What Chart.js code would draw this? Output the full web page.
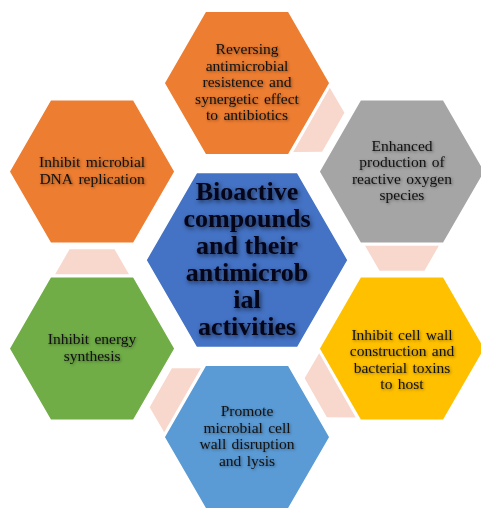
<!DOCTYPE html>
<html>
<head>
<meta charset="utf-8">
<script src="https://cdn.jsdelivr.net/npm/chart.js@4.4.1/dist/chart.umd.min.js"></script>
<style>
  html, body { margin: 0; padding: 0; background: #ffffff; }
  #wrap { width: 481px; height: 508px; }
</style>
</head>
<body>
<div id="wrap"><canvas id="c" width="481" height="508"></canvas></div>
<script>
// ---------- data ----------
const centerLabel = ["Bioactive", "compounds", "and their", "antimicrob", "ial", "activities"];
const centerX = [0];
const centerY = [0];

const activityLabels = [
  ["Reversing", "antimicrobial", "resistence and", "synergetic effect", "to antibiotics"],
  ["Enhanced", "production of", "reactive oxygen", "species"],
  ["Inhibit cell wall", "construction and", "bacterial toxins", "to host"],
  ["Promote", "microbial cell", "wall disruption", "and lysis"],
  ["Inhibit energy", "synthesis"],
  ["Inhibit microbial", "DNA replication"]
];
// positions of the surrounding hexagons on the honeycomb grid (units of ring spacing)
const activityX = [0, 1, 1, 0, -1, -1];
const activityY = [1, 0.5, -0.5, -1, -0.5, 0.5];
// decorative links: from activity i to activity i+1
const linkFrom = [0, 1, 2, 3, 4];

// ---------- styles ----------
const activityColors = ['#ED7D31', '#A5A5A5', '#FFC000', '#5B9BD5', '#70AD47', '#ED7D31'];
const centerColor = '#4472C4';
const linkColor = '#F8D7CD';
const OUTER_R = 0.535;   // hexagon radius in x-axis units
const CENTER_R = 0.652;
const labelShiftPx = [0, 0, 12, 0, 0, 0];

const hexPlugin = {
  id: 'hexPlugin',
  afterDatasetsDraw(chart) {
    const ctx = chart.ctx;
    const xs = chart.scales.x;
    const unit = xs.getPixelForValue(1) - xs.getPixelForValue(0);
    const rOut = OUTER_R * unit;
    const rCen = CENTER_R * unit;
    const cMeta = chart.getDatasetMeta(0).data;
    const aMeta = chart.getDatasetMeta(1).data;

    function hexPath(cx, cy, r) {
      ctx.beginPath();
      for (let k = 0; k < 6; k++) {
        const a = Math.PI / 3 * k;
        const px = cx + r * Math.cos(a), py = cy + r * Math.sin(a);
        if (k === 0) ctx.moveTo(px, py); else ctx.lineTo(px, py);
      }
      ctx.closePath();
    }

    ctx.save();
    // links
    const apo = rOut * Math.cos(Math.PI / 6);
    const L = rOut * 0.89, g = 2.5, h = 25;
    linkFrom.forEach(i => {
      const p = aMeta[i], q = aMeta[(i + 1) % aMeta.length];
      let nx = q.x - p.x, ny = q.y - p.y;
      const len = Math.hypot(nx, ny); nx /= len; ny /= len;
      const tx = -ny, ty = nx;
      const mx = p.x + apo * nx, my = p.y + apo * ny;
      const half1 = L / 2, half2 = L / 2 - h / Math.sqrt(3);
      const b1x = mx + g * nx, b1y = my + g * ny;
      const b2x = mx + (g + h) * nx, b2y = my + (g + h) * ny;
      ctx.beginPath();
      ctx.moveTo(b1x + half1 * tx, b1y + half1 * ty);
      ctx.lineTo(b2x + half2 * tx, b2y + half2 * ty);
      ctx.lineTo(b2x - half2 * tx, b2y - half2 * ty);
      ctx.lineTo(b1x - half1 * tx, b1y - half1 * ty);
      ctx.closePath();
      ctx.fillStyle = linkColor;
      ctx.fill();
    });

    // hexagons
    ctx.lineWidth = 1.5;
    ctx.strokeStyle = '#ffffff';
    aMeta.forEach((el, i) => {
      hexPath(el.x, el.y, rOut);
      ctx.fillStyle = activityColors[i];
      ctx.fill();
      ctx.stroke();
    });
    cMeta.forEach(el => {
      hexPath(el.x, el.y, rCen);
      ctx.fillStyle = centerColor;
      ctx.fill();
      ctx.stroke();
    });

    // labels
    ctx.textAlign = 'center';
    ctx.textBaseline = 'middle';
    ctx.fillStyle = '#111111';
    ctx.shadowColor = 'rgba(0,0,0,0.45)';
    ctx.shadowBlur = 3;
    ctx.shadowOffsetX = 1;
    ctx.shadowOffsetY = 1;
    ctx.font = '15.5px "Liberation Serif", "Times New Roman", serif';
    if ('wordSpacing' in ctx) ctx.wordSpacing = '1.5px';
    const lh = 16.5;
    aMeta.forEach((el, i) => {
      const lines = activityLabels[i];
      lines.forEach((t, j) => {
        const y = el.y + (j - (lines.length - 1) / 2) * lh + labelShiftPx[i];
        ctx.fillText(t, el.x, y);
      });
    });
    if ('wordSpacing' in ctx) ctx.wordSpacing = '0px';
    ctx.font = 'bold 26px "Liberation Serif", "Times New Roman", serif';
    ctx.fillStyle = '#05051a';
    ctx.shadowColor = 'rgba(0,0,0,0.6)';
    ctx.shadowBlur = 4;
    ctx.shadowOffsetX = 1.5;
    ctx.shadowOffsetY = 1.5;
    const lh2 = 27;
    cMeta.forEach(el => {
      centerLabel.forEach((t, j) => {
        const y = el.y + (j - (centerLabel.length - 1) / 2) * lh2 + 1;
        ctx.fillText(t, el.x, y);
      });
    });
    ctx.restore();
  }
};

new Chart(document.getElementById('c'), {
  type: 'scatter',
  data: {
    datasets: [
      { label: 'Bioactive compounds', data: centerX.map((x, i) => ({ x, y: centerY[i] })), pointRadius: 0 },
      { label: 'Antimicrobial activities', data: activityX.map((x, i) => ({ x, y: activityY[i] })), pointRadius: 0 }
    ]
  },
  options: {
    responsive: false,
    animation: false,
    events: [],
    layout: { padding: 0 },
    plugins: { legend: { display: false }, tooltip: { enabled: false }, title: { display: false } },
    scales: {
      x: { type: 'linear', min: -1.594, max: 1.510, display: false },
      y: { type: 'linear', min: -1.401, max: 1.469, display: false }
    }
  },
  plugins: [hexPlugin]
});
</script>
</body>
</html>
